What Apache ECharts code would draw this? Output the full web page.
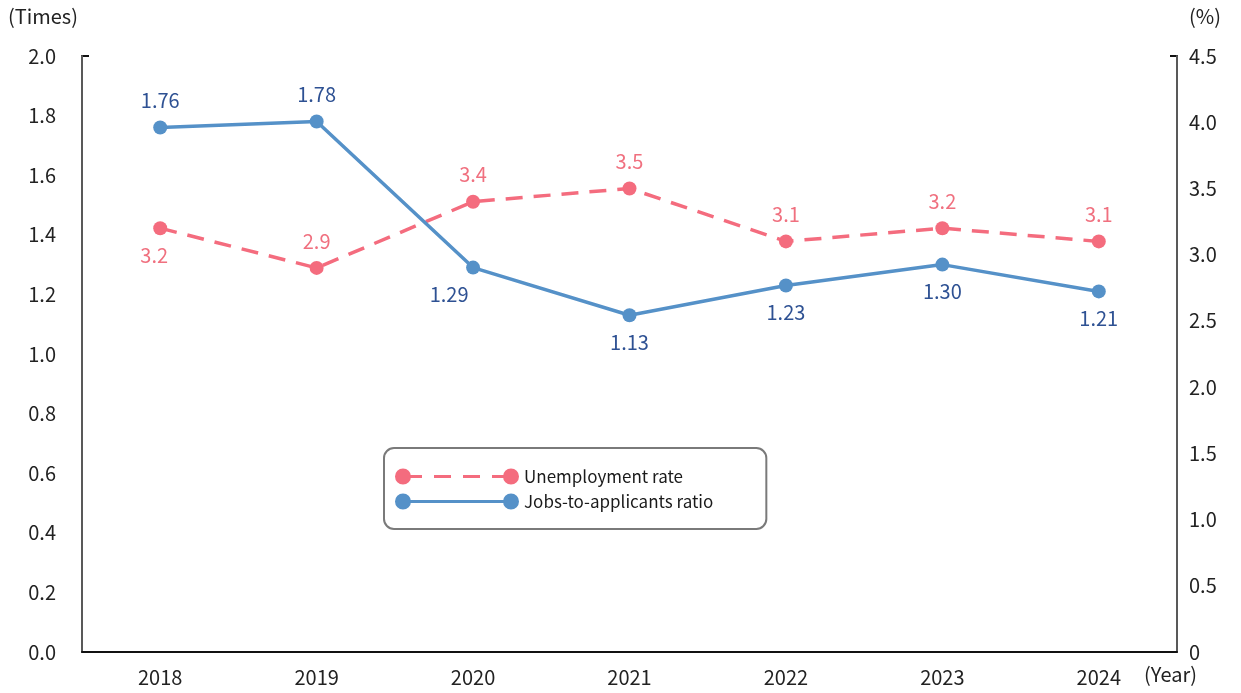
<!DOCTYPE html>
<html>
<head>
<meta charset="utf-8">
<script src="https://cdn.jsdelivr.net/npm/echarts@6/dist/echarts.min.js"></script>
<style>
  html, body { margin: 0; padding: 0; background: #fff; }
  #chart { width: 1241px; height: 693px; }
</style>
</head>
<body>
<div id="chart"></div>
<script>
// Labour market indicators, 2018-2024
const years = ['2018', '2019', '2020', '2021', '2022', '2023', '2024'];
const unemploymentRate = [3.2, 2.9, 3.4, 3.5, 3.1, 3.2, 3.1];          // %
const jobsToApplicants = [1.76, 1.78, 1.29, 1.13, 1.23, 1.30, 1.21];   // times
const leftTicks = { min: 0, max: 2.0, interval: 0.2 };
const rightTicks = { min: 0, max: 4.5, interval: 0.5 };
// where each value label sits relative to its point
const unemploymentLabelPos = ['bottom', 'top', 'top', 'top', 'top', 'top', 'top'];
const jobsLabelPos = ['top', 'top', 'bottom', 'bottom', 'bottom', 'bottom', 'bottom'];

const RED = '#F46C7E';
const RED_TEXT = '#F0707F';
const BLUE = '#5591C8';
const BLUE_TEXT = '#2E5193';
const FONT = '"Noto Sans CJK JP", "Noto Sans", sans-serif';

// legend glyphs: marker - line - marker
const redIcon = 'path://M0,8A8,8,0,1,1,16,8A8,8,0,1,1,0,8Z' +
  'M108,8A8,8,0,1,1,124,8A8,8,0,1,1,108,8Z' +
  'M14,6.5L27,6.5L27,9.5L14,9.5Z' +
  'M39,6.5L56,6.5L56,9.5L39,9.5Z' +
  'M68,6.5L85,6.5L85,9.5L68,9.5Z' +
  'M97,6.5L110,6.5L110,9.5L97,9.5Z';
const blueIcon = 'path://M0,8A8,8,0,1,1,16,8A8,8,0,1,1,0,8Z' +
  'M108,8A8,8,0,1,1,124,8A8,8,0,1,1,108,8Z' +
  'M14,6.5L110,6.5L110,9.5L14,9.5Z';

function labelled(values, positions, offsets) {
  return values.map((v, i) => ({
    value: v,
    label: {
      position: positions[i],
      offset: offsets && offsets[i] ? offsets[i] : [0, 0]
    }
  }));
}

const chart = echarts.init(document.getElementById('chart'), null, { renderer: 'canvas' });

chart.setOption({
  backgroundColor: '#fff',
  animation: false,
  textStyle: { fontFamily: FONT },
  grid: { left: 82, right: 64, top: 56, bottom: 41 },
  legend: {
    left: 384,
    top: 448,
    orient: 'vertical',
    itemWidth: 124,
    itemHeight: 16,
    itemGap: 8,
    padding: [20, 53, 19, 11],
    borderColor: '#7a7a7a',
    borderWidth: 2,
    borderRadius: 10,
    itemStyle: { borderWidth: 0 },
    textStyle: { fontSize: 17, color: '#1a1a1a', fontFamily: FONT },
    data: [
      { name: 'Unemployment rate', icon: redIcon },
      { name: 'Jobs-to-applicants ratio', icon: blueIcon }
    ]
  },
  xAxis: {
    type: 'category',
    data: years,
    boundaryGap: true,
    axisLine: { lineStyle: { color: '#111', width: 2 } },
    axisTick: { show: false },
    axisLabel: { fontSize: 20, color: '#222', margin: 15, fontFamily: FONT }
  },
  yAxis: [
    {
      type: 'value',
      min: leftTicks.min, max: leftTicks.max, interval: leftTicks.interval,
      position: 'left',
      axisLine: { show: true, lineStyle: { color: '#595959', width: 2 } },
      axisTick: { show: false },
      splitLine: { show: false },
      axisLabel: {
        fontSize: 20, color: '#222', margin: 26, fontFamily: FONT,
        formatter: v => v.toFixed(1)
      }
    },
    {
      type: 'value',
      min: rightTicks.min, max: rightTicks.max, interval: rightTicks.interval,
      position: 'right',
      axisLine: { show: true, lineStyle: { color: '#595959', width: 2 } },
      axisTick: { show: false },
      splitLine: { show: false },
      axisLabel: {
        fontSize: 20, color: '#222', margin: 12, fontFamily: FONT,
        formatter: v => (v === 0 ? '0' : v.toFixed(1))
      }
    }
  ],
  graphic: [
    { type: 'text', left: 8, top: 6, style: { text: '(Times)', fontSize: 20, fill: '#222', fontFamily: FONT } },
    { type: 'text', left: 1189, top: 6, style: { text: '(%)', fontSize: 20, fill: '#222', fontFamily: FONT } },
    { type: 'text', left: 1144, top: 664, style: { text: '(Year)', fontSize: 20, fill: '#222', fontFamily: FONT } },
    // short inward caps at the top of both value axes
    { type: 'line', shape: { x1: 81, y1: 56, x2: 89, y2: 56 }, style: { stroke: '#111', lineWidth: 2 } },
    { type: 'line', shape: { x1: 1170, y1: 56, x2: 1178, y2: 56 }, style: { stroke: '#111', lineWidth: 2 } }
  ],
  series: [
    {
      name: 'Unemployment rate',
      type: 'line',
      yAxisIndex: 1,
      data: labelled(unemploymentRate, unemploymentLabelPos, [[-6, 0]]),
      symbol: 'circle',
      symbolSize: 14,
      itemStyle: { color: RED, borderWidth: 0 },
      lineStyle: { color: RED, width: 3.5, type: [17, 11] },
      label: {
        show: true,
        fontSize: 20,
        color: RED_TEXT,
        distance: 10,
        fontFamily: FONT,
        formatter: p => p.value.toFixed(1)
      },
      z: 2
    },
    {
      name: 'Jobs-to-applicants ratio',
      type: 'line',
      yAxisIndex: 0,
      data: labelled(jobsToApplicants, jobsLabelPos, [null, null, [-24, 0]]),
      symbol: 'circle',
      symbolSize: 14,
      itemStyle: { color: BLUE, borderWidth: 0 },
      lineStyle: { color: BLUE, width: 3.5 },
      label: {
        show: true,
        fontSize: 20,
        color: BLUE_TEXT,
        distance: 10,
        fontFamily: FONT,
        formatter: p => p.value.toFixed(2)
      },
      z: 3
    }
  ]
});
</script>
</body>
</html>
